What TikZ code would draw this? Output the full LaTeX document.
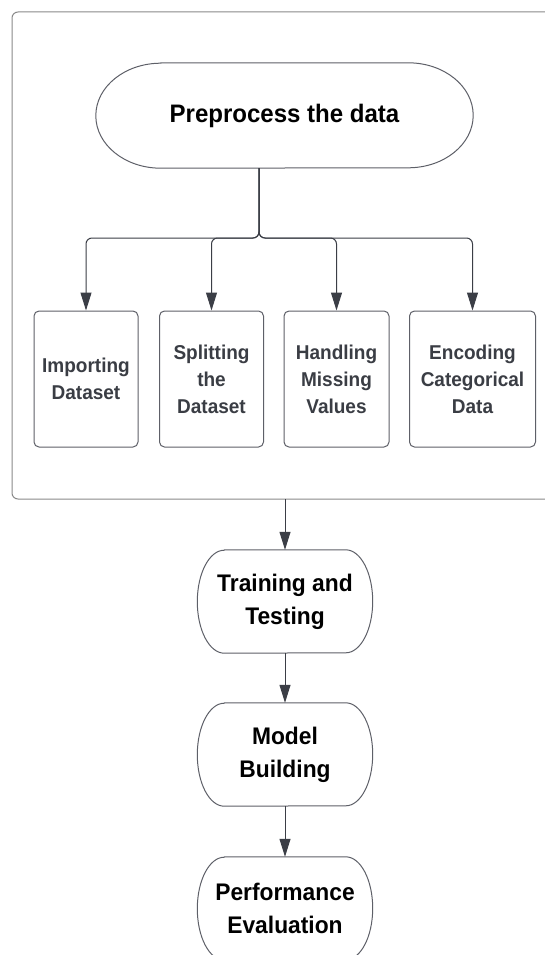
\documentclass[tikz,border=0pt]{standalone}
\usepackage{xcolor}
\usepackage{fontspec}
\setmainfont{Liberation Sans}[FakeStretch=0.95]
\usetikzlibrary{arrows.meta}
\definecolor{PPFrame}{HTML}{8A8A8A}
\definecolor{PPLine}{HTML}{5E6068}
\definecolor{PPArrow}{HTML}{3B3E46}
\definecolor{PPText}{HTML}{3A3D44}
\newcommand{\capsuleoutline}[3]{%
  \draw[PPLine,line width=1pt] ([xshift=#2]#1.north west) -- ([xshift=-#2]#1.north east)
    arc[start angle=-90,end angle=90,x radius=#2,y radius=#3]
    -- ([xshift=#2]#1.south west)
    arc[start angle=90,end angle=270,x radius=#2,y radius=#3] -- cycle;}

\begin{document}
\begin{tikzpicture}[x=1pt,y=-1pt,
  stagebox/.style={draw=PPLine,line width=1pt,rounded corners=5pt,minimum height=136pt,
    inner sep=0pt,align=center,text=PPText,font=\fontsize{20}{27}\selectfont\bfseries},
  capsule/.style={minimum width=175pt,minimum height=103pt,inner sep=0pt,align=center,
    font=\fontsize{24}{33}\selectfont\bfseries},
  flow/.style={draw=PPArrow,line width=1pt,-{Triangle[length=18pt,width=11pt]}}]
\clip (0,0) rectangle (545,955);
\fill[white] (0,0) rectangle (545,955);
\draw[PPFrame,line width=1pt,rounded corners=6pt] (560,12) -- (12,12) -- (12,499) -- (560,499);
\node[minimum width=377pt,minimum height=105pt,inner sep=0pt,
  font=\fontsize{25.3}{30}\selectfont\bfseries] (pre) at (284.5,115.5) {Preprocess the data};
\capsuleoutline{pre}{65}{52.5}
\node[stagebox,minimum width=104pt] (importing) at (86,379) {Importing\\Dataset};
\node[stagebox,minimum width=104pt] (splitting) at (211.5,379) {Splitting\\the\\Dataset};
\node[stagebox,minimum width=105pt] (handling) at (336.5,379) {Handling\\Missing\\Values};
\node[stagebox,minimum width=126pt] (encoding) at (472.5,379) {Encoding\\Categorical\\Data};
\coordinate (stem) at (259,168);
\coordinate (fork) at (259,238);
\foreach \b in {importing,splitting,handling,encoding}
  \draw[flow,rounded corners=6pt] (stem) -- (fork) -| (\b.north);
\node[capsule] (train) at (285,601.5) {Training and\\Testing};
\capsuleoutline{train}{27}{51.5}
\node[capsule] (model) at (285,754.5) {Model\\Building};
\capsuleoutline{model}{27}{51.5}
\node[capsule] (perf) at (285,908.5) {Performance\\Evaluation};
\capsuleoutline{perf}{27}{51.5}
\coordinate (exit) at (285,499);
\draw[flow] (exit) -- (train.north);
\draw[flow] (train.south) -- (model.north);
\draw[flow] (model.south) -- (perf.north);
\end{tikzpicture}
\end{document}
